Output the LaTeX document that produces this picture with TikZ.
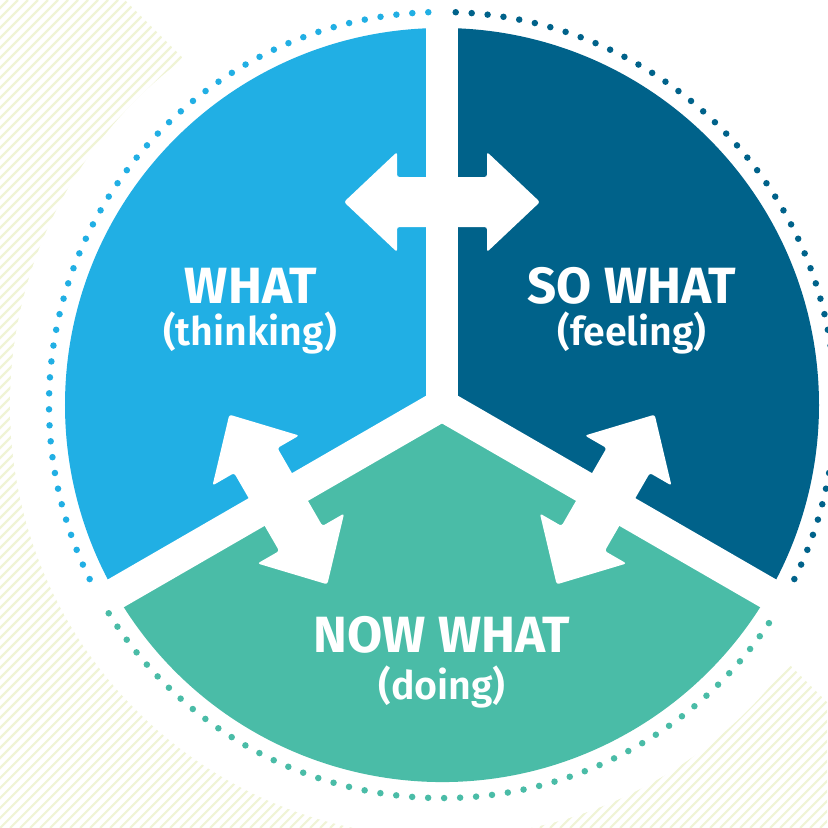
\documentclass[tikz,border=0pt]{standalone}
\usepackage{fontspec}
\setmainfont{Fira Sans}
\newfontfamily\medfont{Fira Sans SemiBold}
\definecolor{whatblue}{HTML}{21AFE4}
\definecolor{sowhatblue}{HTML}{00628A}
\definecolor{nowgreen}{HTML}{4ABCA7}
\definecolor{hatchcol}{HTML}{F0F4D6}

\tikzset{twoway/.pic={
  \fill [white, rounded corners=0.025cm] (-0.98,0) -- (-0.45,0.5) -- (-0.45,0.25) -- (0.45,0.25) -- (0.45,0.5) -- (0.98,0) -- (0.45,-0.5) -- (0.45,-0.25) -- (-0.45,-0.25) -- (-0.45,-0.5) -- cycle;
}}

\begin{document}
\begin{tikzpicture}
\tikzstyle{every node}+=[inner sep=0pt]
\tikzstyle{ring}=[line width=0.065cm, line cap=round, dash pattern=on 0pt off 0.16cm]
\tikzstyle{gap}=[white, line width=0.32cm]
\tikzstyle{head}=[white, anchor=base, font=\bfseries\fontsize{14.5}{17}\selectfont]
\tikzstyle{sub}=[white, anchor=base, font=\medfont\fontsize{11.2}{14}\selectfont]
\useasboundingbox (0,0) rectangle (8.27,-8.28);
\coordinate (O) at (4.42,-4.05);
% hatching in the corners
\begin{scope}
\clip (0,0) -- (1.25,0) -- (8.27,-7.02) -- (8.27,-8.28) -- (0,-8.28) -- cycle;
\foreach \c in {-8.3,-8.2,...,8.3}
  \draw [hatchcol, line width=0.022cm] (\c,-8.28) -- ++(8.28,8.28);
\end{scope}
\fill [white] (O) circle (4.32);
% dotted ring
\draw [ring, whatblue] ([shift={(92:3.93)}]O) arc (92:208:3.93);
\draw [ring, sowhatblue] ([shift={(88:3.93)}]O) arc (88:-28:3.93);
\draw [ring, nowgreen] ([shift={(212:3.93)}]O) arc (212:328:3.93);
% sectors
\fill [whatblue] (O) -- ++(90:3.77) arc (90:210:3.77) -- cycle;
\fill [sowhatblue] (O) -- ++(90:3.77) arc (90:-30:3.77) -- cycle;
\fill [nowgreen] (O) -- ++(210:3.77) arc (210:330:3.77) -- cycle;
\foreach \a in {90,210,330}
  \draw [gap] (O) -- ++(\a:3.85);
% arrows
\pic at ([shift={(90:2.03)}]O) {twoway};
\pic [rotate=120] at ([shift={(210:1.89)}]O) {twoway};
\pic [rotate=60] at ([shift={(330:1.89)}]O) {twoway};
% labels
\node [head] (what) at (2.51,-3.03) {WHAT};
\node [sub] (whatsub) at (2.50,-3.45) {(thinking)};
\node [head] (sowhat) at (6.32,-3.03) {SO WHAT};
\node [sub] (sowhatsub) at (6.32,-3.45) {(feeling)};
\node [head] (nowwhat) at (4.42,-6.52) {NOW WHAT};
\node [sub] (nowwhatsub) at (4.42,-6.99) {(doing)};
\end{tikzpicture}
\end{document}
